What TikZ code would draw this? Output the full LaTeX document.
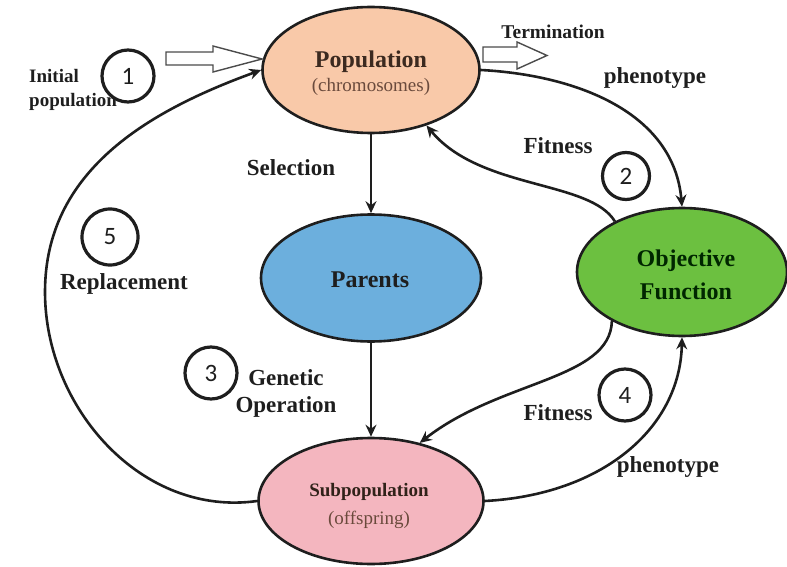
\documentclass[tikz,border=0pt]{standalone}
\usepackage{fontspec}
\setmainfont{Liberation Serif}
\newfontfamily\numfont{Carlito}
\usetikzlibrary{shapes.geometric,arrows.meta}

\definecolor{popfill}{HTML}{F9C9A9}
\definecolor{parfill}{HTML}{6CAFDD}
\definecolor{objfill}{HTML}{6CC040}
\definecolor{subfill}{HTML}{F4B6BF}
\definecolor{ink}{HTML}{1E1E1E}
\definecolor{popink}{HTML}{3C2A20}
\definecolor{popsub}{HTML}{6A4A3C}

\tikzset{
  stage/.style={ellipse, draw=ink, line width=2.6pt, inner sep=0pt, align=center, text=ink},
  lbl/.style={font=\fontsize{23}{27}\selectfont\bfseries, text=ink, inner sep=0pt, align=center},
  smalllbl/.style={font=\fontsize{19}{24}\selectfont\bfseries, text=ink, inner sep=0pt, align=left},
  stepnum/.style={circle, draw=ink, line width=3.2pt, minimum size=52pt, inner sep=0pt,
                  font=\numfont\fontsize{25}{25}\selectfont, text=ink},
  flow/.style={draw=ink, line width=2.6pt, -{Stealth[length=12pt,width=11pt,inset=4pt]}},
  hollow/.style={draw=ink!80, line width=1.4pt, fill=white, line join=miter}
}

\begin{document}
\begin{tikzpicture}[x=1pt, y=-1pt]
\useasboundingbox (0,0) rectangle (787,567);

% stages of the cycle
\node[stage, fill=popfill, minimum width=217pt, minimum height=126pt] (pop) at (371,70) {};
\node[font=\fontsize{24}{24}\selectfont\bfseries, text=popink, inner sep=0pt] (poptxt) at (371,62) {Population};
\node[font=\fontsize{19}{19}\selectfont, text=popsub, inner sep=0pt] (popsubtxt) at (371,87) {(chromosomes)};

\node[stage, fill=parfill, minimum width=220pt, minimum height=127pt] (par) at (371,278) {};
\node[lbl, font=\fontsize{24}{24}\selectfont\bfseries, text=ink] (partxt) at (370,280) {Parents};

\node[stage, fill=objfill, minimum width=210pt, minimum height=128pt] (obj) at (682,272) {};
\node[lbl, font=\fontsize{24}{33}\selectfont\bfseries, text=black!85!green] (objtxt) at (686,275) {Objective\\Function};

\node[stage, fill=subfill, minimum width=225pt, minimum height=126pt] (sub) at (371,501) {};
\node[font=\fontsize{19}{19}\selectfont\bfseries, text=popink!80!black, inner sep=0pt] (subtxt) at (369,492) {Subpopulation};
\node[font=\fontsize{19}{19}\selectfont, text=popsub, inner sep=0pt] (subsubtxt) at (369,520) {(offspring)};

% straight transitions
\draw[flow] (pop.south) -- (par.north);
\draw[flow] (par.south) -- (sub.north);

% replacement loop on the left
\coordinate (leftmost) at (45,292);
\draw[flow] (sub.west) to[out=188, in=-90] (leftmost) to[out=90, in=200] (pop.west);

% evaluation loops on the right
\draw[flow] (pop.east) to[out=-3, in=95] (obj.north);
\draw[flow] (obj.143) .. controls (590,180) and (480,190) .. (pop.-45);
\draw[flow] (obj.-145) .. controls (610,380) and (500,380) .. (sub.50);
\draw[flow] (sub.east) .. controls (600,495) and (680,430) .. (obj.south);

% hollow block arrows
\draw[hollow] (166,52) -- (213,52) -- (213,46) -- (262,59) -- (213,72) -- (213,65) -- (166,65) -- cycle;
\draw[hollow] (483,47) -- (517,47) -- (517,42) -- (547,55.5) -- (517,69) -- (517,62) -- (483,62) -- cycle;

% text labels
\node[smalllbl, anchor=west] (init) at (29,90) {Initial\\population};
\node[smalllbl, font=\fontsize{19.5}{20}\selectfont\bfseries] (term) at (553,32) {Termination};
\node[lbl] (phtop) at (655,78) {phenotype};
\node[lbl] (fittop) at (558,146) {Fitness};
\node[lbl] (sel) at (291,168) {Selection};
\node[lbl] (repl) at (124,284) {Replacement};
\node[lbl, font=\fontsize{23}{27}\selectfont\bfseries] (genop) at (286,393) {Genetic\\Operation};
\node[lbl] (fitbot) at (558,413) {Fitness};
\node[lbl] (phbot) at (668,467) {phenotype};

% step numbers
\node[stepnum] (n1) at (128,76) {1};
\node[stepnum, minimum size=47pt] (n2) at (626,176) {2};
\node[stepnum] (n3) at (211,373) {3};
\node[stepnum] (n4) at (625,395) {4};
\node[stepnum, minimum size=56pt] (n5) at (110,237) {5};

\end{tikzpicture}
\end{document}
